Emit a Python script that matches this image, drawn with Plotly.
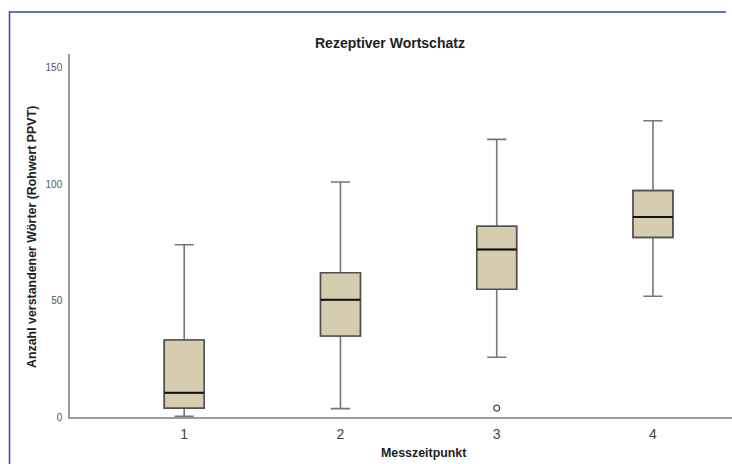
import plotly.graph_objects as go

# Boxplot summary per measurement time (raw PPVT scores)
zeitpunkte = [1, 2, 3, 4]
minimum = [0.3, 3.6, 25.7, 51.9]
q1 = [3.8, 34.8, 54.9, 77.2]
median = [10.4, 50.4, 72.0, 86.0]
q3 = [33.1, 62.0, 82.0, 97.3]
maximum = [74.0, 101.0, 119.3, 127.3]

# Outliers: (measurement time, value)
ausreisser_x = [3]
ausreisser_y = [3.8]

tick_labels = ["1", "2", "3", "4"]

FONT = "Liberation Sans, Arial, sans-serif"
BOX_FILL = "#d6cdb0"
BOX_W = 0.255

W, H = 732, 464


def fx(px):
    return px / W


def fy(py):
    return (H - py) / H


fig = go.Figure()

# whiskers with caps (grey)
fig.add_trace(go.Box(
    x=zeitpunkte, q1=q1, median=median, q3=q3,
    lowerfence=minimum, upperfence=maximum,
    width=BOX_W, whiskerwidth=0.48,
    fillcolor=BOX_FILL, line=dict(color="#767676", width=1.6),
    boxpoints=False, hoverinfo="skip", showlegend=False,
))
# box body with darker outline
fig.add_trace(go.Box(
    x=zeitpunkte, q1=q1, median=median, q3=q3,
    lowerfence=q1, upperfence=q3,
    width=BOX_W, whiskerwidth=0,
    fillcolor=BOX_FILL, line=dict(color="#505050", width=1.6),
    boxpoints=False, hoverinfo="skip", showlegend=False,
))
# median line in black
fig.add_trace(go.Box(
    x=zeitpunkte, q1=median, median=median, q3=median,
    lowerfence=median, upperfence=median,
    width=BOX_W, whiskerwidth=0,
    fillcolor="rgba(0,0,0,0)", line=dict(color="#111111", width=2),
    boxpoints=False, hoverinfo="skip", showlegend=False,
))
# outliers
fig.add_trace(go.Scatter(
    x=ausreisser_x, y=ausreisser_y, mode="markers",
    marker=dict(symbol="circle-open", size=6, color="#444444", line=dict(width=1.2)),
    hoverinfo="skip", showlegend=False,
))
# blue page frame (top and left edge) on a full-page pixel subplot
fig.add_trace(go.Scatter(
    x=[9.5, 9.5, 726], y=[H, 12, 12], mode="lines",
    line=dict(color="#2f44a6", width=1.5),
    xaxis="x2", yaxis="y2", hoverinfo="skip", showlegend=False,
))

hidden_axis = dict(visible=False, fixedrange=True, automargin=False)

fig.update_layout(
    width=W, height=H,
    margin=dict(l=0, r=0, t=0, b=0, pad=0),
    paper_bgcolor="white", plot_bgcolor="rgba(0,0,0,0)",
    boxmode="overlay",
    font=dict(family=FONT, color="#333333"),
    xaxis=dict(
        domain=[fx(70), 1], anchor="y", automargin=False,
        range=[0.269, 4.506], tickvals=zeitpunkte, ticktext=tick_labels,
        showgrid=False, zeroline=False, showline=True,
        linecolor="#9a9a9a", linewidth=1.5, ticks="",
        tickfont=dict(size=14, color="#444444"), ticklabelstandoff=3,
    ),
    yaxis=dict(
        domain=[fy(417), fy(54)], anchor="x", automargin=False,
        range=[0, 156], tickvals=[0, 50, 100, 150],
        showgrid=False, zeroline=False, showline=True,
        linecolor="#9a9a9a", linewidth=1.5, ticks="",
        tickfont=dict(size=10, color="#555555"), ticklabelstandoff=4,
    ),
    xaxis2=dict(domain=[0, 1], anchor="y2", range=[0, W], **hidden_axis),
    yaxis2=dict(domain=[0, 1], anchor="x2", range=[H, 0], **hidden_axis),
    annotations=[
        dict(text="<b>Rezeptiver Wortschatz</b>", x=fx(390), y=fy(43),
             xref="paper", yref="paper", xanchor="center", yanchor="middle",
             showarrow=False, font=dict(size=14, color="#222222", family=FONT)),
        dict(text="<b>Messzeitpunkt</b>", x=fx(423), y=fy(453),
             xref="paper", yref="paper", xanchor="center", yanchor="middle",
             showarrow=False, font=dict(size=12.4, color="#222222", family=FONT)),
        dict(text="<b>Anzahl verstandener Wörter (Rohwert PPVT)</b>", x=fx(32), y=fy(237),
             xref="paper", yref="paper", xanchor="center", yanchor="middle",
             textangle=-90, showarrow=False,
             font=dict(size=12.4, color="#222222", family=FONT)),
    ],
)

fig.write_html("out.html", config={"displayModeBar": False})
